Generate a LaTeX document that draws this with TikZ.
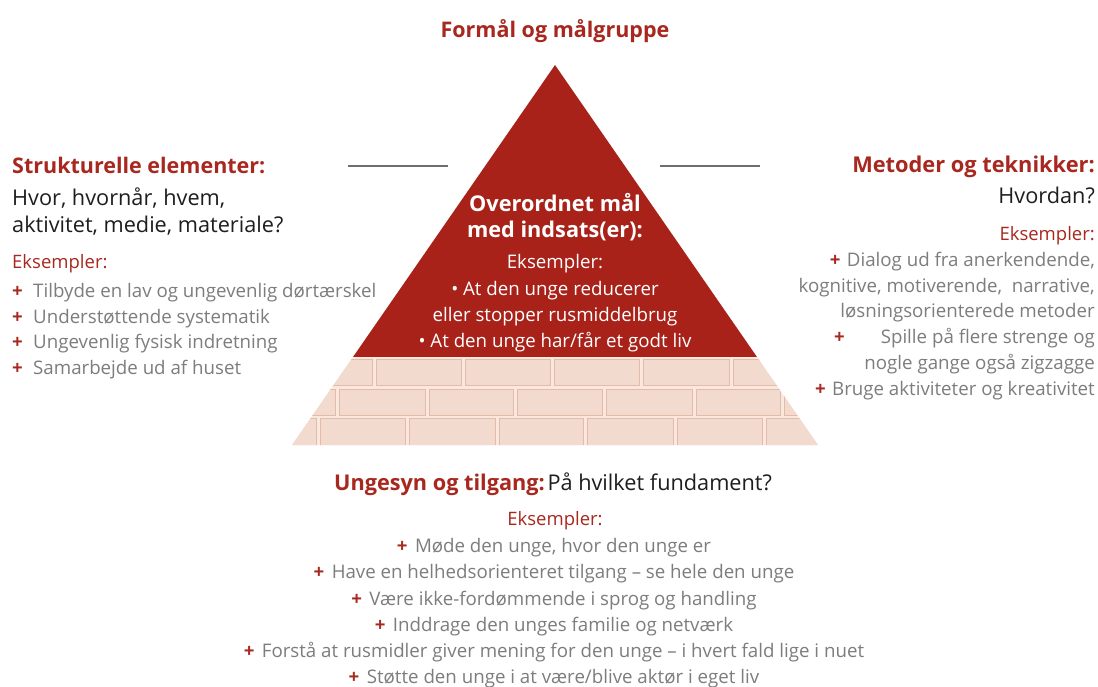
\documentclass[tikz,border=0pt]{standalone}
\usepackage{fontspec}
\setmainfont{Open Sans}
\definecolor{redT}{HTML}{A8221A}
\definecolor{redTxt}{HTML}{A8281F}
\definecolor{grayTxt}{HTML}{7D7D7D}
\definecolor{blackTxt}{HTML}{1E1E1E}
\definecolor{brick}{HTML}{F3DACE}
\definecolor{brickEdge}{HTML}{E4BBA7}
\definecolor{mortar}{HTML}{F8E8E0}
\definecolor{lineGray}{HTML}{6E6E6E}
\begin{document}
\begin{tikzpicture}[x=1pt,y=-1pt,
  title/.style={font=\fontsize{21.5}{21.5}\selectfont\bfseries, text=redTxt, inner sep=0},
  head/.style={font=\fontsize{21.5}{21.5}\selectfont\bfseries, text=redTxt, inner sep=0},
  quest/.style={font=\fontsize{21.7}{21.7}\selectfont, text=blackTxt, inner sep=0},
  exlab/.style={font=\fontsize{18.5}{18.5}\selectfont, text=redTxt, inner sep=0},
  item/.style={font=\fontsize{18.7}{18.7}\selectfont, text=grayTxt, inner sep=0},
  plus/.style={font=\fontsize{18.7}{18.7}\selectfont\bfseries, text=redTxt, inner sep=0},
  inhead/.style={font=\fontsize{21.7}{21.7}\selectfont\bfseries, text=white, inner sep=0},
  initem/.style={font=\fontsize{18.7}{18.7}\selectfont, text=white, inner sep=0},
  sepline/.style={draw=lineGray, line width=1.2pt},
  brickbox/.style={fill=brick, draw=brickEdge, line width=0.9pt}
]
\useasboundingbox (0,0) rectangle (1098,686);
\fill[white] (0,0) rectangle (1098,686);

% pyramid
\coordinate (apex) at (555,65);
\coordinate (ml) at (353,357);
\coordinate (mr) at (757,357);
\coordinate (bl) at (292,445);
\coordinate (br) at (818,445);
\fill[redT] (apex) -- (mr) -- (ml) -- cycle;
\begin{scope}
  \clip (ml) -- (mr) -- (br) -- (bl) -- cycle;
  \fill[mortar] (250,355) rectangle (860,447);
  \foreach \a/\b in {270/374,374/463,463/552,552/641,641/731,731/830}
    \draw[brickbox] (\a+2,359.5) rectangle (\b-2,385.5);
  \foreach \a/\b in {250/337,337/427,427/515,515/604,604/694,694/782,782/870}
    \draw[brickbox] (\a+2,389) rectangle (\b-2,415);
  \foreach \a/\b in {230/318,318/407,407/497,497/585,585/675,675/764,764/860}
    \draw[brickbox] (\a+2,418.5) rectangle (\b-2,446);
\end{scope}

% separator lines
\coordinate (l1) at (348,166); \coordinate (l2) at (448,166);
\coordinate (r1) at (660,166); \coordinate (r2) at (760,166);
\draw[sepline] (l1) -- (l2);
\draw[sepline] (r1) -- (r2);

% title
\node[title, anchor=base] (ttl) at (555,37) {Formål og målgruppe};

% center text
\node[inhead, anchor=base] (c1) at (555,211) {Overordnet mål};
\node[inhead, anchor=base] (c2) at (555,237) {med indsats(er):};
\node[initem, anchor=base] (c3) at (555,268) {Eksempler:};
\node[initem, anchor=base] (c4) at (555,295) {\textbullet\ At den unge reducerer};
\node[initem, anchor=base] (c5) at (555,321) {eller stopper rusmiddelbrug};
\node[initem, anchor=base] (c6) at (555,347) {\textbullet\ At den unge har/får et godt liv};

% left block
\node[head, anchor=base west] (sh) at (12,173) {Strukturelle elementer:};
\node[quest, anchor=base west] (sq1) at (12,205) {Hvor, hvornår, hvem,};
\node[quest, anchor=base west] (sq2) at (12,232) {aktivitet, medie, materiale?};
\node[exlab, anchor=base west] (sex) at (12,268) {Eksempler:};
\foreach \y/\t [count=\i] in {297/{Tilbyde en lav og ungevenlig dørtærskel},
                  323/{Understøttende systematik},
                  348/{Ungevenlig fysisk indretning},
                  374/{Samarbejde ud af huset}}{
  \node[plus, anchor=base west] (sp\i) at (12,\y) {+};
  \node[item, anchor=base west] (si\i) at (33,\y) {\t};
}

% right block
\node[head, font=\fontsize{21.8}{21.8}\selectfont\bfseries, anchor=base east] (mh) at (1095,172) {Metoder og teknikker:};
\node[quest, anchor=base east] (mq) at (1095,203) {Hvordan?};
\node[exlab, anchor=base east] (mex) at (1095,240) {Eksempler:};
\node[item, anchor=base east] (mi1) at (1095,266) {Dialog ud fra anerkendende,};
\node[plus, anchor=base east] (mp1) at ([xshift=-6pt]mi1.base west) {+};
\node[item, anchor=base east] (mi2) at (1095,292) {kognitive, motiverende,\ \ narrative,};
\node[item, anchor=base east] (mi3) at (1095,317) {løsningsorienterede metoder};
\node[item, anchor=base east] (mi4) at (1095,343) {Spille på flere strenge og};
\node[plus, anchor=base west] (mp4) at (834,343) {+};
\node[item, anchor=base east] (mi5) at (1095,369) {nogle gange også zigzagge};
\node[item, anchor=base east] (mi6) at (1095,395) {Bruge aktiviteter og kreativitet};
\node[plus, anchor=base east] (mp6) at ([xshift=-6pt]mi6.base west) {+};

% bottom block
\node[inner sep=0, anchor=base] (uh) at (553,490)
  {{\fontsize{21.7}{21.7}\selectfont\bfseries\color{redTxt}Ungesyn og tilgang:}\ %
   {\fontsize{21.7}{21.7}\selectfont\color{blackTxt}På hvilket fundament?}};
\node[exlab, anchor=base] (uex) at (555,525) {Eksempler:};
\foreach \y/\t [count=\i] in {552/{Møde den unge, hvor den unge er},
   578/{Have en helhedsorienteret tilgang – se hele den unge},
   605/{Være ikke-fordømmende i sprog og handling},
   631/{Inddrage den unges familie og netværk},
   657/{Forstå at rusmidler giver mening for den unge – i hvert fald lige i nuet},
   683/{Støtte den unge i at være/blive aktør i eget liv}}{
  \node[item, anchor=base] (ui\i) at (563,\y) {\t};
  \node[plus, anchor=base east] (up\i) at ([xshift=-7pt]ui\i.base west) {+};
}
\end{tikzpicture}
\end{document}
